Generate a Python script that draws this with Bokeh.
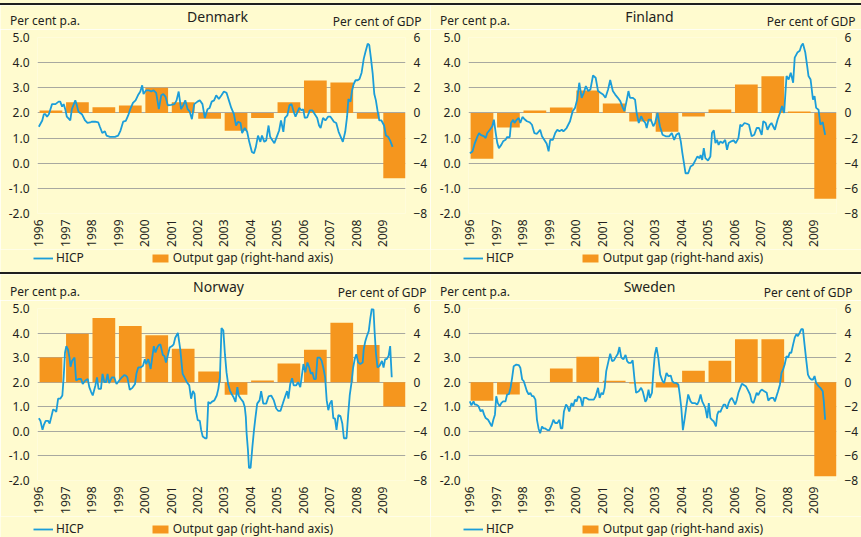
import math
from bokeh.plotting import figure
from bokeh.models import (Range1d, LinearAxis, FixedTicker, PrintfTickFormatter,
                          Legend, LegendItem, Div)
from bokeh.layouts import column, row
from bokeh.embed import file_html
from bokeh.resources import INLINE
from bokeh.core.properties import value

# ---------------- data ----------------
YEARS = list(range(1996, 2010))

# Output gap, per cent of GDP (right-hand axis), one bar per year
DK_GAP = [0.2, 0.85, 0.45, 0.6, 2.0, 0.85, -0.47, -1.42, -0.4, 0.85, 2.58, 2.42, -0.47, -5.2]
FI_GAP = [-3.65, -1.15, 0.19, 0.43, 1.79, 0.75, -0.69, -1.49, -0.29, 0.27, 2.27, 2.91, 0.11, -6.83]
NO_GAP = [2.01, 3.94, 5.23, 4.58, 3.83, 2.73, 0.88, -1.02, 0.13, 1.53, 2.65, 4.83, 3.03, -1.98]
SE_GAP = [-1.5, -1.01, 0.0, 1.12, 2.08, 0.11, -0.11, -0.44, 0.93, 1.75, 3.5, 3.5, 0.0, -7.65]

# HICP, per cent p.a.: (years after start of 1996, value)
DK_HICP = [(0.00,1.45),(0.13,1.70),(0.19,1.95),(0.25,1.95),(0.31,1.85),(0.38,1.95),(0.44,2.15),(0.50,2.35),(0.63,2.35),(0.75,2.45),(0.81,2.45),(0.88,2.25),(0.94,2.35),(1.00,2.15),(1.06,1.85),(1.19,1.70),(1.25,2.15),(1.38,2.50),(1.44,2.30),(1.50,2.05),(1.63,1.95),(1.75,1.70),(1.84,1.60),(1.94,1.62),(2.00,1.65),(2.13,1.65),(2.25,1.62),(2.31,1.45),(2.40,1.20),(2.50,1.27),(2.56,1.10),(2.69,1.05),(2.88,1.05),(3.00,1.10),(3.09,1.30),(3.19,1.65),(3.29,1.68),(3.38,1.90),(3.46,2.15),(3.56,2.40),(3.66,2.50),(3.75,2.70),(3.84,2.85),(3.91,3.10),(3.96,2.75),(4.06,2.90),(4.16,2.90),(4.25,2.85),(4.34,2.90),(4.44,2.80),(4.54,2.15),(4.63,2.70),(4.71,2.75),(4.79,2.65),(4.88,2.30),(5.00,2.32),(5.13,2.35),(5.21,2.50),(5.29,2.85),(5.38,2.15),(5.46,2.30),(5.54,2.50),(5.63,2.15),(5.71,2.05),(5.79,1.75),(5.88,2.35),(6.00,2.45),(6.09,2.50),(6.19,2.35),(6.28,1.80),(6.38,2.15),(6.46,2.20),(6.54,2.45),(6.63,2.50),(6.71,2.70),(6.81,2.55),(6.91,2.70),(7.00,2.85),(7.10,2.80),(7.19,2.50),(7.28,2.20),(7.38,1.95),(7.46,1.50),(7.54,1.65),(7.63,1.60),(7.69,1.20),(7.79,1.40),(7.88,1.25),(7.96,0.85),(8.06,0.45),(8.14,0.40),(8.21,0.65),(8.29,1.10),(8.38,0.85),(8.44,1.10),(8.53,0.85),(8.60,0.90),(8.69,1.50),(8.75,1.05),(8.84,0.90),(8.91,0.80),(9.00,1.05),(9.09,1.30),(9.16,1.70),(9.25,1.25),(9.31,1.80),(9.40,1.90),(9.48,2.30),(9.56,2.35),(9.64,2.05),(9.71,1.85),(9.79,2.05),(9.85,2.20),(9.94,2.10),(10.00,2.15),(10.06,1.80),(10.15,1.82),(10.25,2.10),(10.35,2.10),(10.44,1.95),(10.53,1.80),(10.60,1.50),(10.66,1.40),(10.75,1.80),(10.84,1.70),(10.94,1.85),(11.03,1.85),(11.10,1.75),(11.16,1.65),(11.25,1.60),(11.34,1.25),(11.44,1.00),(11.50,0.85),(11.59,1.25),(11.66,1.85),(11.71,2.55),(11.79,2.45),(11.85,2.90),(11.91,3.15),(11.98,3.30),(12.06,3.30),(12.13,3.35),(12.21,3.60),(12.29,4.15),(12.35,4.40),(12.44,4.75),(12.50,4.70),(12.56,4.20),(12.63,3.55),(12.69,2.75),(12.75,2.50),(12.81,2.10),(12.88,1.70),(12.96,1.70),(13.06,1.50),(13.13,1.10),(13.21,1.05),(13.29,0.90),(13.38,0.65)]

FI_HICP = [(0.00,0.40),(0.10,0.47),(0.19,0.80),(0.29,1.07),(0.35,1.20),(0.41,1.13),(0.54,1.07),(0.60,1.00),(0.66,1.20),(0.76,1.33),(0.85,1.47),(0.91,1.73),(0.98,1.20),(1.04,0.80),(1.10,0.60),(1.19,0.73),(1.26,0.87),(1.35,0.93),(1.41,1.04),(1.51,1.04),(1.56,1.60),(1.64,1.73),(1.69,1.60),(1.76,1.71),(1.85,1.80),(1.91,1.60),(1.99,1.84),(2.06,1.76),(2.16,1.67),(2.26,1.63),(2.35,1.53),(2.44,1.20),(2.54,1.17),(2.66,1.33),(2.73,1.07),(2.85,0.87),(2.91,0.77),(2.98,0.47),(3.04,0.93),(3.14,0.93),(3.23,1.20),(3.31,1.33),(3.39,1.27),(3.48,1.33),(3.54,1.27),(3.66,1.40),(3.79,1.67),(3.89,2.07),(3.98,2.20),(4.06,2.53),(4.14,3.20),(4.23,2.60),(4.31,2.80),(4.39,3.07),(4.48,2.87),(4.56,2.93),(4.66,3.49),(4.76,3.40),(4.85,2.87),(4.94,2.80),(5.04,2.73),(5.13,2.60),(5.23,2.93),(5.31,3.31),(5.41,2.87),(5.50,2.73),(5.60,2.60),(5.69,2.47),(5.79,2.20),(5.85,2.07),(5.94,2.53),(6.00,2.87),(6.06,2.60),(6.16,2.60),(6.25,2.53),(6.31,2.00),(6.39,1.60),(6.48,1.87),(6.54,1.73),(6.64,1.60),(6.69,1.40),(6.76,1.73),(6.85,1.73),(6.94,1.47),(7.01,1.60),(7.10,2.00),(7.19,1.47),(7.29,1.13),(7.41,1.07),(7.54,1.07),(7.64,1.20),(7.73,0.93),(7.81,1.13),(7.91,1.20),(7.98,0.87),(8.04,0.40),(8.10,0.00),(8.16,-0.40),(8.26,-0.40),(8.35,-0.13),(8.44,-0.07),(8.54,0.13),(8.61,0.27),(8.69,0.20),(8.73,0.33),(8.79,0.13),(8.85,0.60),(8.91,0.20),(9.01,0.11),(9.10,0.27),(9.16,1.20),(9.23,1.31),(9.29,0.80),(9.35,0.93),(9.41,0.73),(9.48,0.87),(9.56,0.80),(9.66,0.93),(9.73,0.53),(9.79,0.80),(9.89,0.87),(9.98,0.91),(10.06,0.80),(10.16,1.00),(10.23,1.53),(10.29,1.47),(10.39,1.60),(10.48,1.57),(10.56,1.53),(10.66,1.07),(10.76,1.13),(10.85,1.40),(10.94,1.40),(11.04,1.13),(11.10,1.67),(11.19,1.60),(11.26,1.33),(11.35,1.53),(11.41,1.60),(11.54,1.33),(11.64,1.73),(11.73,2.00),(11.81,2.27),(11.89,2.00),(11.98,3.47),(12.06,3.33),(12.14,3.60),(12.23,3.20),(12.29,4.20),(12.39,4.40),(12.48,4.47),(12.54,4.67),(12.60,4.76),(12.69,4.40),(12.76,3.87),(12.81,3.47),(12.89,3.33),(12.98,2.53),(13.04,2.67),(13.10,2.20),(13.19,2.13),(13.26,1.53),(13.35,1.63),(13.44,1.13)]

NO_HICP = [(0.00,0.53),(0.06,0.43),(0.14,0.06),(0.19,0.26),(0.26,0.43),(0.35,0.43),(0.41,0.32),(0.48,0.62),(0.54,0.89),(0.60,0.86),(0.66,0.79),(0.73,1.33),(0.81,1.33),(0.89,1.46),(0.94,2.20),(0.99,3.20),(1.04,3.47),(1.10,3.34),(1.16,3.00),(1.20,2.63),(1.26,2.87),(1.35,3.00),(1.41,2.07),(1.50,2.13),(1.60,2.13),(1.66,1.93),(1.76,2.07),(1.85,2.13),(1.91,1.80),(1.98,1.60),(2.04,1.46),(2.14,1.87),(2.20,2.20),(2.26,1.73),(2.35,1.73),(2.41,2.34),(2.48,2.00),(2.54,2.00),(2.60,2.34),(2.66,1.96),(2.76,2.20),(2.85,2.20),(2.94,1.93),(3.04,2.07),(3.14,2.20),(3.23,2.29),(3.29,2.27),(3.35,2.20),(3.44,1.69),(3.54,1.77),(3.64,1.93),(3.69,2.34),(3.76,2.60),(3.85,2.60),(3.94,2.67),(4.01,2.94),(4.06,2.74),(4.14,2.94),(4.23,2.54),(4.29,3.00),(4.35,3.47),(4.41,3.21),(4.48,3.41),(4.54,3.51),(4.60,3.54),(4.69,3.11),(4.75,3.07),(4.81,2.80),(4.89,3.14),(4.95,3.41),(5.04,3.47),(5.10,3.54),(5.16,3.81),(5.26,4.01),(5.35,3.34),(5.44,2.34),(5.51,2.20),(5.60,2.00),(5.69,1.87),(5.76,1.33),(5.83,1.64),(5.89,1.53),(5.94,0.86),(6.01,0.46),(6.09,0.43),(6.14,0.06),(6.20,-0.21),(6.29,-0.28),(6.35,-0.28),(6.41,1.20),(6.48,1.13),(6.54,1.20),(6.64,1.26),(6.73,1.46),(6.79,1.73),(6.85,2.20),(6.91,4.21),(6.98,4.10),(7.04,3.14),(7.10,2.40),(7.16,1.93),(7.23,1.66),(7.29,1.53),(7.36,1.40),(7.44,1.20),(7.51,1.80),(7.56,1.46),(7.64,1.33),(7.73,1.20),(7.79,0.99),(7.83,0.59),(7.86,-0.08),(7.91,-0.75),(7.95,-1.49),(8.01,-1.49),(8.08,-0.61),(8.14,0.06),(8.19,0.53),(8.26,1.13),(8.35,1.26),(8.41,1.64),(8.49,1.13),(8.60,1.13),(8.69,1.42),(8.79,1.46),(8.89,1.26),(8.98,0.93),(9.06,0.83),(9.14,0.83),(9.23,1.13),(9.31,1.40),(9.39,1.64),(9.44,1.33),(9.51,1.93),(9.58,2.16),(9.64,1.87),(9.73,1.87),(9.81,2.00),(9.89,1.80),(9.95,2.27),(10.01,2.74),(10.08,2.40),(10.16,2.80),(10.23,2.60),(10.29,2.34),(10.35,2.40),(10.41,2.13),(10.48,2.13),(10.54,3.00),(10.63,3.00),(10.70,2.87),(10.76,2.60),(10.83,2.20),(10.89,1.26),(10.95,0.86),(11.01,1.13),(11.08,1.26),(11.14,0.53),(11.20,0.53),(11.26,0.06),(11.33,0.66),(11.41,0.62),(11.48,0.32),(11.54,-0.28),(11.64,-0.28),(11.70,0.66),(11.76,1.46),(11.83,2.00),(11.89,2.60),(11.95,2.94),(12.01,3.14),(12.08,2.80),(12.16,2.74),(12.25,2.80),(12.29,3.34),(12.35,3.67),(12.41,3.88),(12.48,4.08),(12.54,4.61),(12.60,5.02),(12.66,4.95),(12.70,4.08),(12.75,3.21),(12.81,2.60),(12.89,2.67),(12.98,2.87),(13.04,2.60),(13.10,2.94),(13.16,2.94),(13.23,3.07),(13.29,3.47),(13.35,2.20)]

SE_HICP = [(0.00,1.22),(0.06,1.06),(0.14,1.22),(0.19,1.09),(0.25,1.09),(0.33,1.02),(0.41,0.81),(0.48,0.88),(0.54,0.68),(0.60,0.54),(0.69,0.47),(0.76,0.34),(0.83,0.20),(0.89,0.47),(0.95,0.68),(1.00,1.43),(1.06,1.15),(1.13,1.02),(1.19,1.15),(1.26,1.22),(1.35,1.22),(1.41,1.50),(1.48,1.52),(1.54,1.77),(1.60,2.18),(1.66,2.65),(1.76,2.72),(1.85,2.70),(1.91,2.59),(1.98,2.11),(2.04,2.04),(2.10,1.84),(2.16,1.63),(2.23,1.50),(2.29,1.57),(2.35,1.43),(2.41,1.43),(2.48,1.29),(2.54,0.47),(2.60,0.12),(2.66,-0.08),(2.73,0.20),(2.79,0.12),(2.85,0.12),(2.94,0.05),(3.01,0.05),(3.10,0.27),(3.16,0.47),(3.23,0.34),(3.31,0.34),(3.39,0.47),(3.44,0.12),(3.50,0.12),(3.56,0.81),(3.64,1.09),(3.69,1.02),(3.76,0.81),(3.85,1.15),(3.91,1.02),(3.98,1.29),(4.04,1.22),(4.10,1.43),(4.19,1.36),(4.26,1.02),(4.31,1.36),(4.41,1.36),(4.51,1.29),(4.60,1.29),(4.69,1.29),(4.76,1.43),(4.85,1.77),(4.91,1.36),(4.98,1.57),(5.04,1.50),(5.10,1.77),(5.16,2.45),(5.26,2.93),(5.31,3.16),(5.38,2.86),(5.45,2.89),(5.51,3.00),(5.60,3.16),(5.66,3.43),(5.73,3.00),(5.81,2.93),(5.89,3.11),(5.95,2.86),(6.01,2.79),(6.10,2.79),(6.16,2.89),(6.23,2.11),(6.29,1.57),(6.39,1.63),(6.48,1.77),(6.54,1.63),(6.64,1.20),(6.69,1.29),(6.76,1.70),(6.81,1.36),(6.89,1.57),(6.94,2.38),(7.00,3.13),(7.06,3.43),(7.13,3.00),(7.20,2.31),(7.29,2.04),(7.35,1.97),(7.44,2.38),(7.51,2.25),(7.60,2.27),(7.66,2.04),(7.73,1.97),(7.81,1.97),(7.89,1.90),(7.94,1.50),(8.00,0.95),(8.06,0.05),(8.13,0.54),(8.19,1.02),(8.26,1.50),(8.35,1.22),(8.41,1.15),(8.51,1.15),(8.60,1.09),(8.66,1.22),(8.73,1.50),(8.79,1.22),(8.85,1.09),(8.91,0.95),(8.98,0.54),(9.04,1.15),(9.10,0.54),(9.16,0.47),(9.23,0.40),(9.31,0.20),(9.36,0.68),(9.41,0.81),(9.48,0.79),(9.54,0.95),(9.60,1.09),(9.66,1.09),(9.73,0.92),(9.79,1.15),(9.85,1.29),(9.91,1.36),(9.98,1.22),(10.04,1.09),(10.10,1.29),(10.16,1.57),(10.23,1.77),(10.29,1.93),(10.35,1.90),(10.44,1.84),(10.51,1.70),(10.60,1.50),(10.66,1.22),(10.73,1.15),(10.79,1.36),(10.85,1.57),(10.91,1.47),(10.98,1.63),(11.04,1.70),(11.14,1.63),(11.23,1.57),(11.29,1.25),(11.35,1.33),(11.41,1.36),(11.48,1.36),(11.54,1.22),(11.60,1.43),(11.66,1.63),(11.73,1.90),(11.79,2.38),(11.85,2.52),(11.91,2.72),(11.98,3.06),(12.04,3.00),(12.10,3.20),(12.16,3.20),(12.23,3.54),(12.29,3.81),(12.35,3.95),(12.41,3.88),(12.48,4.02),(12.54,4.16),(12.60,4.16),(12.66,3.54),(12.73,2.86),(12.79,2.31),(12.85,2.18),(12.91,2.11),(12.98,2.11),(13.04,2.25),(13.10,1.97),(13.19,1.84),(13.26,1.77),(13.35,1.63),(13.39,1.22),(13.44,0.47)]

LEFT_TICKS = [-2, -1, 0, 1, 2, 3, 4, 5]
RIGHT_TICKS = [-8, -6, -4, -2, 0, 2, 4, 6]

# ---------------- style ----------------
BG = "#FFFBCF"
ORANGE = "#F5961E"
BLUE = "#1B9DD9"
TEXT = "#231F20"
GRID = "#A8A8A0"
FONT = "Noto Sans"
BAR_OFFSET = 0.46
BAR_WIDTH = 0.86


def blank(width, height, xr, yr):
    f = figure(width=width, height=height, x_range=xr, y_range=yr,
               output_backend="svg", toolbar_location=None, title=None,
               x_axis_location=None, y_axis_location=None,
               min_border=0, min_border_left=0, min_border_right=0,
               min_border_top=0, min_border_bottom=0, frame_align=False,
               background_fill_color=BG, border_fill_color=BG, outline_line_color=None)
    f.grid.visible = False
    return f


def header(name, width, height, title_x, title_y, unit_y, right_x):
    h = blank(width, height, Range1d(0, width), Range1d(height, 0))
    h.text(x=[title_x], y=[title_y], text=[name], text_align="center", text_baseline="middle",
           text_font=value(FONT), text_font_size="14px", text_color=TEXT)
    h.text(x=[9.5], y=[unit_y], text=["Per cent p.a."], text_align="left", text_baseline="middle",
           text_font=value(FONT), text_font_size="12px", text_color=TEXT)
    h.text(x=[right_x], y=[unit_y + 1], text=["Per cent of GDP"], text_align="right",
           text_baseline="middle", text_font=value(FONT), text_font_size="12px", text_color=TEXT)
    return h


def footer(width, height, hicp, gap, legend_bottom):
    # the legend lives in its own strip; its renderers hold the series but lie outside this strip's ranges
    f = blank(width, height, Range1d(0, 1), Range1d(0, 1))
    lr = f.line([1996 + t for t, v in hicp], [v for t, v in hicp], line_color=BLUE, line_width=1.8)
    br = f.vbar(x=[y + BAR_OFFSET for y in YEARS], top=gap, bottom=0, width=BAR_WIDTH,
                fill_color=ORANGE, line_color=None)
    legend = Legend(items=[LegendItem(label="HICP", renderers=[lr]),
                           LegendItem(label="Output gap (right-hand axis)", renderers=[br])],
                    location=(33, legend_bottom), orientation="horizontal",
                    padding=0, margin=0, spacing=66, label_standoff=3,
                    glyph_width=20, glyph_height=10,
                    border_line_alpha=0, background_fill_alpha=0,
                    label_text_font=FONT, label_text_font_size="12px",
                    label_text_color=TEXT)
    f.add_layout(legend)
    return f


def make_panel(name, hicp, gap, width, hdr, top, frame_h, bottom, ftr, left, right,
               title_x, title_y, unit_y, right_x, x_standoff, legend_bottom):
    h = header(name, width, hdr, title_x, title_y, unit_y, right_x)
    p = figure(width=width, height=top + frame_h + bottom, title=None,
               x_range=Range1d(1995.95, 2009.87), y_range=Range1d(-2, 5),
               output_backend="svg", toolbar_location=None, frame_align=False,
               min_border_left=left, min_border_right=right,
               min_border_top=top, min_border_bottom=bottom,
               background_fill_color=BG, border_fill_color=BG,
               outline_line_color=None)
    p.extra_y_ranges = {"gap": Range1d(-8, 6)}

    p.yaxis.ticker = FixedTicker(ticks=LEFT_TICKS)
    p.yaxis.formatter = PrintfTickFormatter(format="%.1f")
    rax = LinearAxis(y_range_name="gap", ticker=FixedTicker(ticks=RIGHT_TICKS))
    p.add_layout(rax, "right")
    p.xaxis.ticker = FixedTicker(ticks=YEARS)
    p.xaxis.major_label_orientation = math.pi / 2
    for ax in [p.yaxis[0], rax, p.xaxis[0]]:
        ax.axis_line_color = None
        ax.major_tick_line_color = None
        ax.minor_tick_line_color = None
        ax.major_tick_out = 0
        ax.major_tick_in = 0
        ax.major_label_text_font = FONT
        ax.major_label_text_font_size = "12px"
        ax.major_label_text_color = TEXT
    p.yaxis[0].major_label_standoff = 8
    rax.major_label_standoff = 8
    p.xaxis[0].major_label_standoff = x_standoff

    p.xgrid.visible = False
    p.ygrid.ticker = FixedTicker(ticks=LEFT_TICKS)
    p.ygrid.grid_line_color = GRID
    p.ygrid.grid_line_width = 1

    p.vbar(x=[y + BAR_OFFSET for y in YEARS], top=gap, bottom=0, width=BAR_WIDTH,
           y_range_name="gap", fill_color=ORANGE, line_color=None)
    p.line([1996 + t for t, v in hicp], [v for t, v in hicp],
           line_color=BLUE, line_width=1.8)

    f = footer(width, ftr, hicp, gap, legend_bottom)
    return column(h, p, f)


# top row: 267 = 24 + (8 + 177 + 35) + 23
p_dk = make_panel("Denmark", DK_HICP, DK_GAP, 430, 24, 8, 177, 35, 23, 37, 23,
                  217, 11, 14.5, 421, 6, 6)
p_fi = make_panel("Finland", FI_HICP, FI_GAP, 431, 24, 8, 177, 35, 23, 38, 22,
                  219, 11, 14.5, 425, 6, 6)
# bottom row: 263 = 26 + (8 + 173 + 35) + 21
p_no = make_panel("Norway", NO_HICP, NO_GAP, 430, 26, 8, 173, 35, 21, 37, 23,
                  218, 12, 16.5, 426, 6, 0)
p_se = make_panel("Sweden", SE_HICP, SE_GAP, 431, 26, 8, 173, 35, 21, 38, 22,
                  219, 12, 16.5, 422, 6, 0)


def strip(height, color):
    return Div(text="", width=861, height=height,
               styles={"background-color": color, "margin": "0", "padding": "0"})


layout = column(strip(3, BG), strip(2, "#1E1E1E"), row(p_dk, p_fi),
                strip(2, "#1E1E1E"), row(p_no, p_se))

open("out.html", "w").write(file_html(layout, INLINE))
